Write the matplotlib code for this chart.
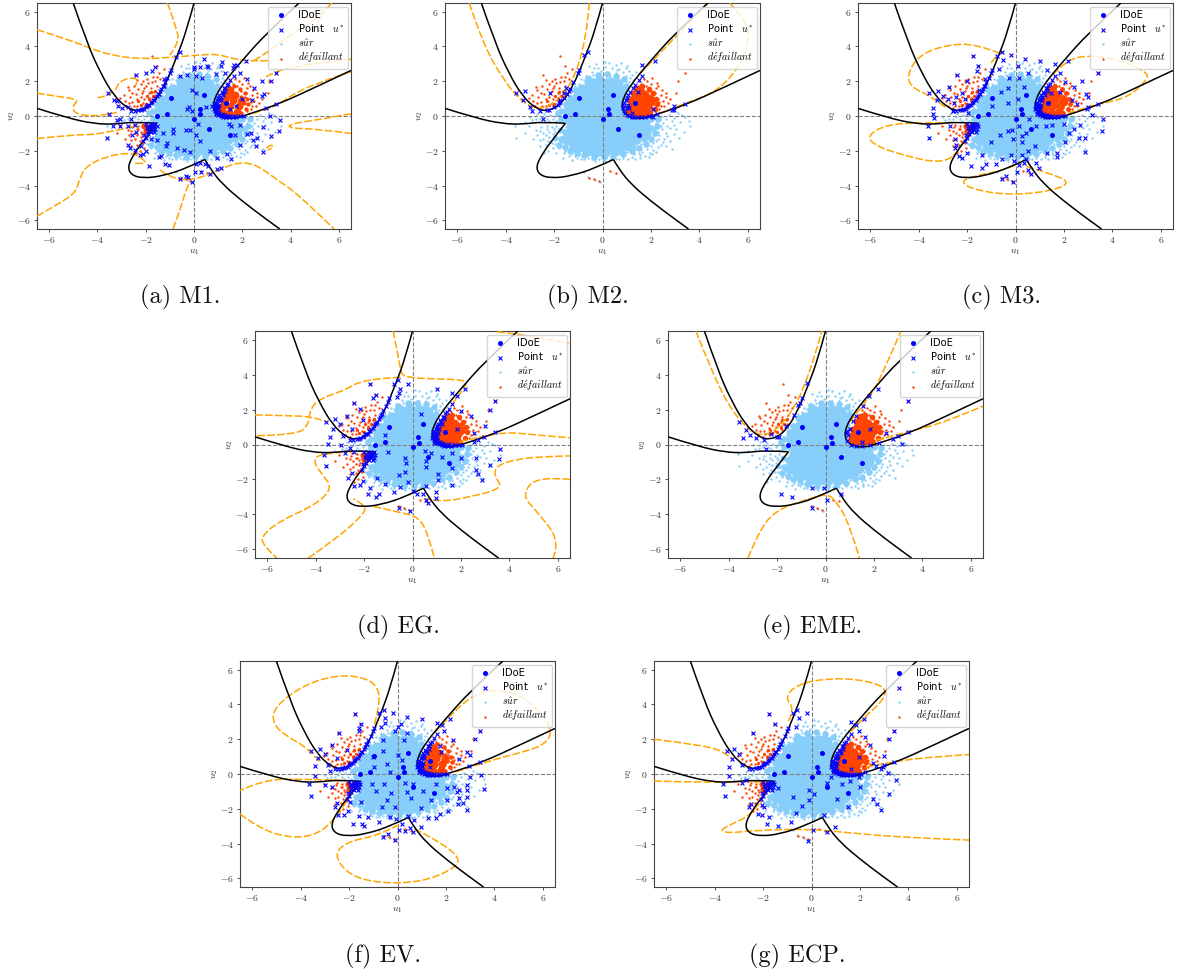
import numpy as np
import matplotlib
matplotlib.use("Agg")
import matplotlib.pyplot as plt
from matplotlib.path import Path
from matplotlib.patches import PathPatch

plt.rcParams['mathtext.fontset'] = 'cm'
plt.rcParams['font.family'] = ['DejaVu Sans']

W, H = 1178, 975

ticks = [-6, -4, -2, 0, 2, 4, 6]
tick_labels = ['$-6$', '$-4$', '$-2$', '$0$', '$2$', '$4$', '$6$']
legend_labels = ['IDoE', 'Point   $u^{*}$', r'$s\hat{u}r$', r'$d\acute{e}faillant$']
captions = ['(a) M1.', '(b) M2.', '(c) M3.', '(d) EG.', '(e) EME.', '(f) EV.', '(g) ECP.']

idoe = [(-1.55, 0.0), (-1.13, 0.13), (-0.95, 1.02), (0.0, -0.17), (0.25, 0.1),
        (0.23, 0.42), (0.43, 1.18), (0.62, -0.72), (1.33, 0.72), (1.5, -1.08)]

# limit state, split at the corners
limit_left = [(-5.0, 6.5), (-4.43, 4.2), (-3.87, 2.47), (-3.3, 1.13), (-2.77, 0.46), (-2.35, 0.27),
              (-1.8, 0.55), (-1.25, 1.6), (-0.7, 3.43), (-0.3, 4.96), (0.0, 6.5)]
limit_right = [(4.35, 6.5), (3.0, 4.77), (1.9, 3.04), (1.22, 1.9), (0.81, 0.94), (0.81, 0.27),
               (1.15, -0.1), (1.65, -0.17), (2.2, 0.08), (3.45, 0.65), (5.1, 1.7), (6.5, 2.62)]
limit_low1 = [(-6.5, 0.44), (-5.25, -0.11), (-4.15, -0.44), (-3.3, -0.48), (-2.5, -0.33), (-1.53, -0.42)]
limit_low2 = [(-1.53, -0.42), (-2.0, -1.25), (-2.45, -2.1), (-2.75, -2.9), (-2.6, -3.4), (-2.1, -3.58),
              (-1.3, -3.45), (-0.3, -3.0), (0.45, -2.5)]
limit_low3 = [(0.45, -2.5), (0.7, -3.1), (1.2, -3.95), (2.0, -4.9), (3.0, -5.95), (3.55, -6.5)]
limit_curves = [limit_left, limit_right, limit_low1, limit_low2, limit_low3]

# dense part of the safe cloud, drawn with big marks
sur_core = [(-0.5, 1.9), (-0.1, 1.95), (0.3, 1.9), (0.6, 1.85),
            (-0.85, 1.5), (-0.45, 1.5), (-0.05, 1.5), (0.35, 1.5), (0.75, 1.45),
            (-1.0, 1.1), (-0.65, 1.1), (-0.25, 1.1), (0.15, 1.1), (0.5, 1.1), (0.75, 1.05),
            (-1.2, 0.7), (-0.85, 0.7), (-0.45, 0.7), (-0.05, 0.7), (0.35, 0.7), (0.65, 0.7),
            (-1.4, 0.3), (-1.05, 0.3), (-0.65, 0.3), (-0.25, 0.3), (0.15, 0.3), (0.5, 0.3), (0.7, 0.3),
            (-1.4, -0.1), (-1.05, -0.1), (-0.65, -0.1), (-0.25, -0.1), (0.15, -0.1), (0.55, -0.1), (0.8, -0.2),
            (1.25, -0.45), (1.7, -0.45),
            (-1.25, -0.55), (-0.9, -0.5), (-0.5, -0.5), (-0.1, -0.5), (0.3, -0.5), (0.7, -0.5), (1.05, -0.6), (1.45, -0.7),
            (-1.3, -0.95), (-0.95, -0.9), (-0.55, -0.9), (-0.15, -0.9), (0.25, -0.9), (0.65, -0.9), (1.05, -1.0), (1.45, -1.05), (1.75, -0.95),
            (-1.45, -1.35), (-1.05, -1.3), (-0.65, -1.3), (-0.25, -1.3), (0.15, -1.3), (0.55, -1.3), (0.95, -1.35), (1.35, -1.35),
            (-1.15, -1.7), (-0.8, -1.7), (-0.4, -1.7), (0.0, -1.7), (0.4, -1.7), (0.8, -1.7), (1.15, -1.65),
            (-0.6, -1.95), (-0.25, -2.0), (0.1, -2.0), (0.5, -1.95)]
# rim of the dense part
sur_mid = [(-0.6, 2.2), (-0.2, 2.35), (0.2, 2.4), (0.55, 2.3), (0.9, 2.15), (0.95, 1.75), (-1.15, 1.5), (-1.35, 1.05),
           (-1.5, 0.7), (-1.7, 0.3), (-1.85, 0.15), (-1.7, -0.15), (-1.55, -0.9), (-1.7, -1.3), (-1.8, -1.65), (-1.55, -1.8),
           (-1.35, -2.0), (-1.05, -2.1), (-0.75, -2.25), (-0.35, -2.35), (0.05, -2.35), (0.45, -2.3), (0.85, -2.2), (1.2, -2.0),
           (1.5, -1.85), (1.8, -1.6), (2.0, -1.3), (2.15, -0.95), (2.25, -0.55), (2.3, -0.2), (2.0, -0.15), (1.6, -0.25),
           (1.15, -0.2), (2.0, -0.7), (1.7, -1.35)]
# thinner part of the safe cloud
sur_dots = [(-0.2, 2.75), (0.1, 2.8), (0.4, 2.75), (-0.45, 2.55), (-0.1, 2.45), (0.25, 2.5), (0.55, 2.5), (0.85, 2.55),
            (-0.7, 2.3), (-0.4, 2.35), (-0.05, 2.3), (0.3, 2.3), (0.65, 2.3), (0.95, 2.3), (1.1, 2.6), (1.0, 2.9), (0.75, 3.05),
            (0.25, 3.05), (-0.25, 3.0), (-0.55, 2.9), (0.55, 2.95), (1.2, 2.35), (-0.75, 2.05), (0.95, 2.0), (1.1, 1.95),
            (-0.95, 1.85), (-1.1, 1.5), (-1.3, 1.15), (-1.45, 0.85), (-1.6, 0.55), (-1.75, 0.3), (-1.9, 0.12), (-2.15, 0.05),
            (-2.4, 0.1), (-2.7, 0.12), (-1.75, 0.0), (-2.05, -0.15), (-2.3, -0.2), (-2.6, -0.15), (-2.9, -0.25), (-3.2, -0.35),
            (-3.6, -0.55), (-3.0, -0.05), (-1.8, -0.25), (0.9, 0.05), (0.85, 0.55), (0.9, 1.3), (1.05, 1.6), (1.25, 2.05),
            (1.35, -0.15), (1.7, -0.2), (2.05, -0.15), (2.4, -0.05), (2.75, 0.05), (3.1, 0.15), (3.4, -0.05), (2.2, -0.4),
            (2.5, -0.4), (2.85, -0.3), (3.2, -0.35), (3.55, -0.3), (2.15, -0.75), (2.45, -0.75), (2.8, -0.7), (3.05, -0.75),
            (3.35, -0.9), (2.1, -1.1), (2.35, -1.1), (2.65, -1.15), (2.95, -1.05), (3.15, -1.25), (1.95, -1.4), (2.2, -1.45),
            (2.5, -1.5), (2.8, -1.45), (1.75, -1.7), (2.0, -1.75), (2.3, -1.8), (2.6, -1.75), (2.85, -1.9), (1.4, -1.9),
            (1.65, -2.05), (1.95, -2.1), (2.2, -2.05), (1.0, -2.05), (1.3, -2.2), (1.55, -2.4), (0.75, -2.2), (1.05, -2.45),
            (1.35, -2.5), (0.4, -2.2), (0.7, -2.5), (0.15, -2.3), (-0.1, -2.25), (-0.4, -2.2), (-0.7, -2.25), (-0.95, -2.05),
            (-1.25, -2.05), (-1.5, -1.75), (-1.7, -1.5), (-1.4, -2.3), (-1.05, -2.4), (-0.75, -2.5), (-0.45, -2.5), (-0.15, -2.5),
            (0.1, -2.6), (-1.25, -2.55), (-1.6, -2.15), (-0.6, -3.5), (-0.3, -3.7), (-0.1, -3.8), (-0.75, -3.2),
            (-1.55, -1.1), (-1.6, -0.8), (-1.5, -0.65), (-1.95, -1.6), (1.9, -2.35), (3.6, -0.6), (3.3, 0.05), (-3.55, -1.25),
            (0.1, 3.1), (-0.05, 2.6), (0.7, 2.7), (-0.3, 2.15), (0.15, 2.15), (0.5, 2.1), (2.6, -0.95), (1.85, -1.25),
            (-1.35, -1.65), (-0.95, -2.25), (0.95, -1.85), (1.6, -1.6), (-1.15, 1.75), (0.8, 1.75),
            (-0.9, 2.1), (-0.35, 2.75), (0.6, 2.65), (0.95, 2.75), (1.15, 2.2), (1.4, 2.55), (2.3, -0.2), (2.6, -0.2), (2.95, -0.1),
            (2.4, -0.55), (2.65, -0.6), (2.95, -0.5), (2.3, -0.9), (2.55, -1.3), (2.3, -1.3), (2.1, -1.55), (2.4, -1.65), (1.85, -1.9),
            (2.1, -1.95), (1.5, -2.1), (1.2, -2.35), (0.85, -2.4), (0.55, -2.45), (0.3, -2.45), (0.0, -2.45), (-0.3, -2.6), (-0.6, -2.4),
            (-0.9, -2.5), (-1.15, -2.3), (-1.3, -2.2), (-1.55, -2.0), (-1.8, -1.85), (-1.9, -2.1), (-1.65, -2.4), (-2.0, -1.3),
            (-1.9, -0.3), (-2.2, -0.3), (-2.45, -0.05), (-2.75, -0.2), (-1.95, 0.0), (1.55, -2.25), (1.75, -2.3), (2.05, -2.2)]
# lower left lobe, safe only in M2 and EME
low_lobe_core = [(-1.75, -0.8), (-1.95, -1.25), (-1.6, -1.35)]
low_lobe_dots = [(-1.9, -0.55), (-2.1, -0.65), (-2.3, -0.55), (-2.55, -0.65), (-2.75, -0.8), (-2.2, -0.9), (-2.45, -0.95),
                 (-2.7, -1.1), (-2.2, -1.2), (-2.45, -1.3), (-2.1, -1.55), (-2.35, -1.65), (-2.85, -1.3), (-2.05, -1.85),
                 (-2.25, -2.0), (-2.6, -1.7), (-1.95, -0.9), (-3.05, -0.6), (-3.2, -0.95), (-2.4, -2.15),
                 (-2.0, -0.75), (-2.3, -0.75), (-2.6, -0.85), (-2.35, -1.1), (-2.05, -1.05), (-2.6, -1.4), (-2.25, -1.45)]

# failure points
fail_core = [(1.15, 0.3), (1.45, 0.2), (1.8, 0.25), (1.2, 0.6), (1.5, 0.55), (1.85, 0.6), (1.3, 0.9), (1.6, 0.9),
             (1.95, 0.85), (1.4, 1.2), (1.7, 1.2), (1.5, 1.5)]
fail_mid = [(1.05, 0.45), (1.1, 0.9), (1.25, 1.35), (1.4, 1.6), (1.65, 1.7), (1.9, 1.55), (2.1, 1.3), (2.2, 1.0), (2.25, 0.7),
            (2.15, 0.4), (1.95, 0.15), (1.6, 0.08), (1.3, 0.1), (1.05, 0.2), (1.95, 1.1), (2.05, 0.75)]
fail_left = [(-2.0, 0.7), (-1.85, 0.95), (-1.7, 1.15), (-1.95, 1.15), (-1.6, 1.45), (-1.8, 1.4), (-2.2, 0.65), (-2.3, 0.85)]
fail_dots = [(2.2, 0.3), (2.4, 0.55), (2.25, 0.7), (2.5, 0.85), (2.3, 1.0), (2.1, 1.1), (2.4, 1.2), (2.6, 1.1), (2.15, 1.35),
             (1.95, 1.45), (2.2, 1.6), (2.45, 1.5), (1.8, 1.7), (2.0, 1.85), (1.6, 1.85), (1.7, 2.1), (2.05, 2.2),
             (2.25, 1.9), (2.8, 1.0), (3.05, 1.35), (3.4, 2.5), (3.1, 2.0), (2.7, 0.75),
             (-2.8, 0.55), (-2.6, 0.45), (-2.35, 0.6), (-2.1, 0.75), (-2.55, 0.8), (-2.85, 0.85), (-2.35, 0.95), (-2.05, 1.0),
             (-1.85, 1.05), (-2.65, 1.1), (-2.9, 1.2), (-2.4, 1.25), (-2.15, 1.3), (-1.85, 1.3), (-1.65, 1.4), (-2.7, 1.5),
             (-2.3, 1.55), (-2.05, 1.6), (-1.8, 1.6), (-1.55, 1.7), (-2.75, 1.65), (-2.2, 1.85), (-1.9, 1.9), (-1.6, 2.0),
             (-1.4, 2.1), (-2.35, 2.05), (-1.7, 2.25), (-1.45, 2.45), (-2.45, 2.35), (-1.25, 2.7), (-1.55, 2.85), (-1.75, 3.45),
             (-3.05, 1.05), (-1.95, 2.15), (-2.05, 0.5), (-1.8, 0.85), (-1.6, 1.15),
             (-0.55, -3.55), (-0.35, -3.65), (-0.15, -3.75), (0.3, -3.15), (0.55, -3.25),
             (2.35, 0.4), (2.55, 0.6), (2.35, 0.8), (2.6, 1.35), (2.3, 1.75), (1.85, 2.0), (1.5, 2.0), (-2.5, 0.6), (-2.7, 0.75),
             (-2.2, 1.1), (-2.55, 1.35), (-2.1, 1.45), (-2.5, 1.7), (-2.0, 1.75), (-1.75, 1.95), (-2.1, 2.0), (-1.55, 2.25)]
low_fail_core = [(-1.85, -0.65), (-2.0, -0.85), (-1.8, -0.55), (-2.05, -0.6)]
low_fail_dots = low_lobe_dots + [(-1.8, -0.9), (-1.9, -1.1), (-2.15, -1.05), (-2.35, -0.75), (-2.05, -0.55), (-2.5, -0.5)]

# points of the enrichment that pile up along the limit state
tip_right = [(1.65, 2.3), (1.5, 2.05), (1.35, 1.8), (1.25, 1.6), (1.15, 1.4), (1.05, 1.2), (1.0, 1.05), (0.95, 0.9), (0.9, 0.75),
             (0.87, 0.6), (0.85, 0.45), (0.87, 0.3), (0.92, 0.18), (1.0, 0.08), (1.1, 0.02), (1.2, -0.03), (1.32, -0.07),
             (1.45, -0.08), (1.6, -0.07), (1.75, -0.05), (1.9, -0.02), (2.05, 0.0), (1.0, 0.45), (1.05, 0.65), (1.1, 0.9),
             (1.0, 0.25), (1.2, 1.2), (1.3, 1.45), (1.15, 0.12), (1.3, 0.05), (1.5, 0.02), (0.98, 0.6),
             (0.95, 0.35), (0.93, 0.5), (0.95, 0.7), (1.02, 0.9), (1.1, 1.1), (1.18, 1.3), (1.3, 1.6), (1.42, 1.85),
             (1.05, 0.15), (1.22, 0.06), (1.4, -0.02), (1.7, 0.0), (0.9, 0.1), (0.82, 0.4), (0.84, 0.7)]
arc_left = [(-2.6, 0.27), (-2.45, 0.27), (-2.3, 0.32), (-2.15, 0.4), (-2.0, 0.5), (-1.9, 0.62), (-1.8, 0.75), (-1.7, 0.9), (-1.6, 1.05),
            (-1.5, 1.25), (-1.4, 1.45), (-1.3, 1.7), (-1.2, 1.95), (-1.1, 2.2), (-1.0, 2.45), (-0.95, 2.65), (-2.2, 0.33), (-1.95, 0.58),
            (-1.75, 0.8), (-1.55, 1.15), (-1.35, 1.55), (-2.05, 0.42), (-1.85, 0.62), (-1.65, 0.92), (-1.45, 1.28), (-1.25, 1.75)]
tip_low = [(-1.6, -0.45), (-1.7, -0.45), (-1.8, -0.5), (-1.9, -0.55), (-1.65, -0.6), (-1.75, -0.65), (-1.85, -0.7), (-1.7, -0.8),
           (-1.8, -0.9), (-1.9, -1.05), (-2.0, -1.25), (-2.1, -1.45), (-2.0, -0.45), (-1.95, -0.7), (-1.6, -0.75),
           (-1.75, -0.55), (-1.9, -0.85), (-1.65, -0.9), (-1.55, -0.6), (-2.05, -1.1)]

ustar_a = tip_right + arc_left + tip_low + [
    (-3.55, 1.3), (-3.3, 0.9), (-3.2, 0.85), (-3.15, 0.6), (-3.0, 0.45), (-2.75, 0.5), (-3.5, 0.1), (-3.2, -0.25), (-3.05, -0.2),
    (-3.35, -0.55), (-3.05, -0.55), (-3.6, -1.25), (-2.75, -0.55), (-2.6, -0.2), (-2.45, -0.5), (-2.4, -0.9), (-2.55, -1.1),
    (-2.75, -1.65), (-2.65, -1.85), (-2.45, -1.95), (-2.2, -1.7), (-2.25, -2.25), (-2.1, -2.2), (-2.0, -2.0), (-1.85, -2.85),
    (-1.45, -2.35), (-1.35, -2.3), (-1.2, -2.75), (-1.05, -2.8), (-0.6, -3.65), (-0.35, -3.45), (-0.1, -3.8), (-0.25, -3.5),
    (0.05, -3.2), (0.3, -3.2), (0.65, -3.35), (0.95, -3.05), (1.1, -3.0), (0.1, -2.75), (0.25, -2.7), (0.45, -2.75), (0.6, -2.9),
    (-2.4, 2.35), (-2.0, 2.5), (-1.75, 2.6), (-1.6, 2.8), (-1.25, 2.1), (-0.6, 3.7), (-0.75, 3.4), (-0.6, 2.3), (-0.3, 2.35),
    (0.0, 2.8), (0.0, 2.7), (0.25, 2.8), (0.55, 2.85), (0.1, 2.3), (0.35, 2.2), (0.9, 2.4), (0.4, 3.3), (0.6, 2.8), (1.15, 3.1),
    (1.1, 2.9), (1.65, 2.95), (1.8, 2.95), (1.6, 2.75), (2.15, 3.15), (1.3, 2.5), (1.9, 2.45), (2.2, 2.15), (2.8, 2.0), (3.2, 2.0),
    (3.4, 2.5), (2.5, 1.6), (2.9, 1.25), (2.8, 1.15), (2.4, 0.9), (2.0, 0.95), (1.75, 0.55), (1.5, 0.4), (3.0, 0.45), (3.4, 0.7),
    (3.15, 0.0), (3.55, -0.25), (3.5, -0.85), (3.2, -1.15), (2.85, -2.05), (2.85, -0.65), (2.6, -1.25), (2.55, -1.7), (2.45, -1.4),
    (2.35, -0.95), (2.2, -1.05), (1.9, -0.5), (1.55, -0.55), (1.7, -1.1), (1.9, -1.65), (1.35, -2.2), (1.55, -2.45), (0.95, -2.4),
    (0.65, -2.0), (0.25, -1.45), (0.1, -1.1), (-0.15, -0.8), (-0.35, -0.8), (-0.85, -0.75), (-0.85, -1.0), (-1.1, -1.55),
    (-0.7, -1.85), (-0.4, -1.95), (-0.15, -2.05), (0.15, -0.45), (-0.1, 0.3), (-0.3, 0.4), (-0.1, 1.5), (0.1, 1.35), (-0.2, 0.5),
    (0.5, 0.5), (0.75, 0.6), (1.45, -0.45), (-1.55, -1.4), (-1.8, -1.35), (-1.3, -1.0), (-1.15, -1.75)]

ustar_b = arc_left[::2] + tip_right[:24] + [
    (-3.55, 1.3), (-3.3, 0.9), (-3.2, 1.45), (-3.0, 0.5), (-2.9, 0.3), (-2.45, -0.2), (-2.15, 1.3), (-1.75, 0.9), (-1.5, 1.6),
    (-1.6, 1.3), (-0.75, 3.5), (-0.6, 3.7), (-0.98, 2.65), (1.65, 2.95), (2.15, 3.15), (1.45, 1.4), (1.1, 0.45), (1.2, 0.15),
    (2.1, 0.4), (2.1, -0.05), (2.25, 0.1), (2.85, 0.35), (2.95, 0.55), (2.95, 0.35), (3.4, 0.7)]

ustar_c = tip_right + arc_left + tip_low + [
    (-3.6, -0.6), (-3.55, -1.25), (-3.55, 1.3), (-3.4, 0.45), (-3.4, 0.1), (-3.35, -0.1), (-3.25, 0.9), (-3.2, 1.45), (-3.0, 1.15),
    (-2.8, 0.95), (-2.75, 1.65), (-2.6, 0.3), (-2.55, 0.75), (-2.45, 1.1), (-2.4, 2.35), (-2.2, 1.35), (-2.1, 1.0), (-1.95, 0.2),
    (-2.0, 2.0), (-1.75, 3.45), (-1.55, 2.85), (-1.6, 2.6), (-1.5, 1.5), (-1.25, 2.1), (-2.7, -0.6), (-2.5, -1.3), (-2.5, -1.85),
    (-2.45, -1.65), (-2.35, -2.3), (-2.2, -2.4), (-2.0, -2.15), (-1.85, -2.85), (-1.4, -3.0), (-1.2, -2.75), (-1.4, -2.25),
    (-1.0, -1.5), (-0.65, -1.1), (-0.55, -3.65), (-0.4, -3.45), (-0.1, -3.8), (0.05, -3.2), (0.65, -3.35), (0.5, -3.1),
    (0.95, -3.0), (0.85, -2.7), (0.15, -2.8), (0.35, -2.7), (-0.05, -2.6), (0.45, -2.5), (0.25, -2.25), (-0.2, -2.25), (-0.55, -2.45),
    (-0.8, -2.75), (0.5, -2.0), (1.3, -2.1), (1.7, -2.1), (1.7, -2.35), (2.05, -1.5), (2.85, -2.05), (2.6, -1.25), (2.2, -0.95),
    (2.4, -0.75), (2.85, -1.25), (3.55, -0.85), (3.6, -0.2), (3.15, 0.05), (2.65, -0.5), (2.0, -0.45), (1.5, -0.5), (1.25, -0.55),
    (0.85, -0.55), (0.55, -0.15), (0.45, -0.95), (0.25, -1.15), (-0.15, -0.8), (-0.1, -1.3), (0.25, -1.5), (0.8, -1.7),
    (-0.3, -0.85), (0.15, -0.6), (-0.6, 1.4), (-0.95, 0.6), (-0.3, 0.75), (-0.3, 1.6), (0.1, 1.0), (0.15, 2.2), (0.35, 1.65),
    (0.1, 2.85), (0.4, 3.3), (0.5, 2.45), (-0.2, 3.5), (-0.5, 3.2), (-0.55, 3.7), (-0.75, 3.45), (-0.7, 2.7), (-0.25, 2.2),
    (1.0, 3.15), (1.3, 2.65), (1.65, 3.0), (2.15, 3.15), (1.85, 2.5), (2.05, 1.95), (2.4, 1.65), (2.75, 2.0), (3.4, 2.5), (3.0, 1.1),
    (2.9, 1.25), (2.35, 0.9), (2.55, 0.7), (3.0, 0.5), (2.95, 0.4), (3.4, 0.7), (1.85, 1.4), (1.45, 1.3)]

ustar_d = tip_right + arc_left + tip_low + [
    (-3.65, -0.6), (-3.55, -1.25), (-3.55, 1.3), (-3.5, 0.05), (-3.4, 0.45), (-3.3, 0.9), (-3.2, 1.45), (-3.0, 1.15), (-2.95, -0.05),
    (-2.85, 0.5), (-2.7, 1.65), (-2.5, 0.9), (-2.4, 2.35), (-2.15, 2.05), (-2.05, 1.4), (-1.75, 3.45), (-1.5, 2.85), (-1.65, 2.65),
    (-2.8, -0.5), (-2.6, -0.2), (-2.4, -0.45), (-2.5, -1.65), (-2.65, -1.9), (-2.4, -2.35), (-2.15, -2.3), (-2.05, -2.1), (-1.85, -2.85),
    (-1.75, -2.5), (-1.5, -3.0), (-1.45, -1.9), (-1.4, -2.85), (-1.15, -2.25), (-1.0, -0.45), (-0.75, -2.7), (-0.55, -3.65), (-0.55, -1.75),
    (-0.5, -2.45), (-0.3, -0.75), (-0.25, -1.05), (-0.3, -1.55), (-0.2, -2.15), (-0.1, -3.8), (0.0, -2.65), (0.2, -2.85), (0.45, -2.85),
    (0.55, -2.35), (0.65, -3.35), (0.55, -3.15), (0.95, -3.05), (0.95, -2.7), (1.05, -2.05), (1.05, -1.7), (0.55, -0.95), (0.55, -1.3),
    (0.75, -0.5), (0.5, -0.4), (1.2, -0.7), (1.65, -1.35), (1.65, -2.3), (2.0, -0.8), (1.65, -0.5), (2.6, -0.75), (2.6, -1.45),
    (2.7, -1.7), (2.85, -2.05), (3.2, -1.15), (3.55, -0.85), (3.6, -0.25), (-1.15, 0.55), (0.35, 1.75), (1.85, 0.9), (2.0, 1.9),
    (-0.75, 3.45), (-0.6, 3.7), (-0.5, 3.2), (-0.65, 2.7), (-0.55, 2.95), (-0.2, 3.45), (1.0, 3.15), (1.65, 2.95), (1.85, 2.8), (2.15, 3.15),
    (2.4, 1.65), (2.55, 0.65), (2.95, 0.45), (3.0, 1.05), (3.2, 2.0), (3.4, 2.5), (3.4, 0.7), (2.7, 0.25), (2.55, 0.15)]

ustar_e = [(-3.55, 1.3), (-3.3, 0.85), (-3.4, 0.4), (-3.1, 0.55), (-2.85, 0.35), (-2.55, 0.25), (-2.25, 0.6), (-2.0, 0.45), (-1.9, 0.45),
           (-1.65, 1.05), (-1.3, 1.7), (-1.15, 2.25), (-1.05, 2.4), (-0.95, 2.65), (-0.75, 3.5), (-2.45, -0.25),
           (-1.85, -2.85), (-1.4, -3.0), (-0.55, -2.5), (-0.05, -2.5), (0.05, -3.2), (0.65, -2.85), (-0.55, -3.65),
           (0.9, 0.8), (0.87, 0.65), (0.92, 0.55), (1.0, 0.9), (1.15, 1.35), (1.25, 1.65), (1.55, 2.2), (1.8, 2.75), (2.15, 3.15),
           (0.9, 0.2), (1.05, 0.0), (1.25, -0.1), (1.5, -0.1), (1.5, 0.15), (1.85, 0.9), (1.85, -0.05), (2.2, 0.1),
           (2.5, 0.65), (2.8, 0.3), (3.0, 0.5), (3.15, 0.02), (3.4, 0.7), (3.4, 2.5)]

ustar_f = tip_right + arc_left + tip_low + [
    (-3.65, -0.6), (-3.55, -1.25), (-3.55, 1.3), (-3.4, 0.45), (-3.4, -0.1), (-3.3, 0.9), (-3.2, 1.45), (-3.0, 1.15), (-3.0, -0.65),
    (-2.85, 0.5), (-2.8, 0.2), (-2.7, 1.65), (-2.7, -0.75), (-2.5, 0.9), (-2.4, 2.35), (-2.35, 0.3), (-2.1, 1.4), (-1.75, 3.45),
    (-1.6, 2.65), (-1.6, 2.5), (-1.5, 2.85), (-2.6, -1.9), (-2.5, -1.65), (-2.45, -2.35), (-2.2, -2.35), (-2.05, -2.1), (-1.85, -2.85),
    (-1.95, -1.6), (-1.6, -2.4), (-1.5, -1.6), (-1.45, -2.85), (-1.4, -3.0), (-1.2, -2.45), (-1.05, -0.6), (-0.9, -1.0), (-0.75, -2.75),
    (-0.55, -0.6), (-0.65, -1.9), (-0.45, -1.5), (-0.6, -3.65), (-0.4, -3.45), (-0.3, -2.5), (-0.1, -3.8), (-0.25, -1.1), (-0.1, -1.9),
    (-0.05, -2.6), (0.05, -3.2), (0.2, -2.85), (0.3, -3.25), (0.5, -3.1), (0.45, -2.4), (0.65, -3.35), (0.7, -2.65), (0.95, -3.05),
    (0.3, -0.5), (0.4, -1.05), (0.65, -0.6), (0.55, -1.4), (1.05, -1.0), (0.95, -1.95), (1.25, -2.55), (1.6, -2.55), (1.4, -1.5),
    (1.75, -2.3), (2.05, -1.5), (2.05, -0.8), (2.1, -2.15), (1.6, -0.55), (2.35, -0.75), (2.45, -1.05), (2.55, -0.9), (2.5, -1.7),
    (2.55, -1.4), (2.7, -1.65), (2.85, -0.65), (2.85, -0.9), (2.85, -1.3), (2.85, -2.05), (3.0, -0.2), (3.45, -0.05), (3.55, -0.85),
    (-1.0, 1.0), (-0.95, 0.4), (-0.45, 0.55), (-0.3, 0.1), (0.2, 0.8), (0.0, 1.1), (0.25, 1.95), (-0.6, 1.35), (-0.6, 1.95), (0.4, 2.35),
    (-0.55, 3.7), (-0.75, 3.5), (-0.5, 3.2), (-0.5, 2.95), (-0.7, 2.7), (-0.2, 3.5), (-0.1, 2.5), (0.0, 2.7), (0.15, 2.85), (0.4, 3.3),
    (1.0, 3.15), (1.65, 2.95), (1.85, 2.8), (2.15, 3.15), (1.9, 2.45), (2.3, 1.95), (2.55, 0.85), (2.85, 1.25), (3.0, 1.1), (2.95, 0.45),
    (3.2, 2.0), (3.4, 2.5), (3.4, 0.7), (1.75, 1.6), (1.8, 1.25), (1.35, 0.4)]

ustar_g = tip_right + arc_left + tip_low + [
    (-3.65, -0.55), (-3.55, -1.25), (-3.5, 1.3), (-3.4, 0.4), (-3.4, -0.1), (-3.3, 0.85), (-3.2, 1.45), (-3.0, 1.15), (-2.85, 0.5),
    (-2.85, -0.5), (-2.7, -0.35), (-2.6, -1.9), (-2.5, -1.7), (-2.4, 2.35), (-2.2, -2.3), (-2.05, -2.35), (-2.05, -1.8), (-1.95, -1.9),
    (-1.85, -2.85), (-1.75, 3.45), (-1.75, -2.5), (-1.5, 2.85), (-1.4, -3.0), (-1.4, -0.8), (-0.85, -2.75), (-0.75, -1.35), (-0.65, -2.25),
    (-0.4, -1.85), (-0.1, -1.5), (-0.1, -0.9), (0.1, -1.15), (0.05, -3.2), (0.65, -3.35), (0.5, -2.35), (0.95, -3.05), (-0.15, -3.85),
    (0.65, -0.5), (0.8, -0.15), (1.05, -1.45), (1.5, -1.9), (1.25, -0.55), (1.6, -0.4), (2.0, -0.75), (1.95, -0.2), (2.55, -1.45), (2.7, -1.7),
    (2.85, -2.05), (3.2, -1.15), (3.5, -0.35), (3.15, 0.05), (-0.75, 3.5), (-0.6, 3.7), (-0.5, 3.2), (-0.65, 2.7), (-0.2, 3.5),
    (1.65, 3.0), (1.85, 2.8), (2.15, 3.15), (1.95, 2.45), (2.2, 2.15), (1.65, 0.3), (1.95, 1.0), (2.4, 1.65), (2.55, 0.65), (2.65, 0.45),
    (2.85, 0.3), (2.95, 0.4), (3.0, 0.5), (3.0, 1.05), (3.2, 2.0), (3.4, 2.5), (3.4, 0.7), (2.2, 0.1)]
ustar_all = [ustar_a, ustar_b, ustar_c, ustar_d, ustar_e, ustar_f, ustar_g]

# estimated failure boundary of each panel
orange_a = [[(-6.5, 4.96), (-5.25, 4.42), (-4.3, 3.9), (-3.45, 3.5), (-2.2, 3.27), (-0.85, 3.38), (0.26, 3.52), (1.0, 3.56), (1.65, 3.27), (2.5, 3.14), (3.2, 3.2)],
            [(6.5, 3.27), (5.1, 3.04), (4.1, 2.8), (3.45, 2.6), (2.9, 2.2)],
            [(6.5, 2.55), (5.1, 1.9), (4.1, 1.25), (3.6, 0.75), (2.9, 0.3), (2.2, 0.08)],
            [(-1.1, 6.5), (-0.7, 5.0), (-0.63, 4.2), (-1.0, 3.5)],
            [(5.7, 6.5), (5.2, 5.7), (4.1, 4.8), (3.2, 3.8), (2.5, 3.2)],
            [(-6.5, 1.32), (-5.7, 1.13), (-4.75, 0.95), (-5.05, 0.55), (-4.9, 0.08), (-3.9, -0.02), (-3.2, 0.2)],
            [(-4.0, 1.05), (-3.3, 1.2), (-3.1, 2.08), (-2.2, 2.25), (-2.45, 1.7)],
            [(-6.5, -1.3), (-5.0, -1.07), (-3.9, -1.07), (-2.5, -0.6)],
            [(-6.5, -5.76), (-5.65, -5.1), (-4.9, -4.4), (-4.77, -3.75), (-4.5, -2.9), (-3.6, -2.3), (-2.6, -2.1), (-2.15, -2.4), (-1.95, -2.8), (-2.5, -2.7)],
            [(-1.4, -3.1), (-1.1, -3.45), (-0.3, -3.75), (0.8, -3.3), (1.65, -2.7), (2.47, -2.7), (3.43, -3.65), (4.4, -4.6), (5.8, -6.5)],
            [(-0.87, -6.5), (-0.57, -5.4), (-0.3, -4.05), (-0.15, -3.75)],
            [(6.5, 0.13), (5.2, -0.2), (4.0, -0.45), (3.9, -0.7), (5.1, -0.75), (6.5, -1.0)],
            [(3.0, -1.85), (3.2, -1.6), (3.3, -1.85), (3.05, -1.95)]]
orange_b = [[(-5.5, 6.5), (-4.95, 4.2), (-4.1, 2.1), (-3.3, 0.75), (-2.45, 0.27), (-1.35, 1.5), (-0.65, 4.4), (-0.55, 6.5)],
            [(1.55, 2.45), (3.05, 4.55), (4.2, 6.4), (4.4, 6.5)],
            [(5.25, 6.5), (5.9, 5.5), (6.05, 4.75), (5.85, 3.25), (4.85, 1.5), (3.5, 0.75), (2.25, 0.1)]]
orange_c = [[(-0.65, 3.6), (-1.6, 4.15), (-2.85, 4.1), (-4.0, 3.5), (-4.5, 2.3), (-4.25, 1.6), (-3.55, 1.2), (-2.85, 0.45)],
            [(-1.0, 3.05), (-0.8, 3.5), (-0.5, 3.7)],
            [(1.55, 2.4), (2.1, 3.2), (2.95, 3.5), (4.3, 3.25), (5.55, 2.45), (5.3, 1.9), (4.75, 1.2), (4.05, 0.85), (2.95, 0.55), (2.1, 0.1)],
            [(-2.6, -0.4), (-3.95, -0.37), (-5.35, -0.5), (-6.15, -1.15), (-5.75, -1.75), (-4.5, -2.3), (-3.4, -2.65), (-2.65, -2.5), (-2.15, -1.55), (-1.9, -0.95)],
            [(0.45, -2.9), (1.3, -3.25), (2.3, -3.8), (1.55, -4.3), (-0.1, -4.55), (-1.6, -4.3), (-2.3, -3.8), (-1.75, -3.45), (-0.4, -3.1), (0.2, -2.7)]]
orange_d = [[(-0.8, 6.5), (-0.6, 5.1), (-0.5, 4.35), (-0.4, 3.85), (1.0, 3.75), (2.2, 3.7), (2.25, 3.4), (1.65, 2.35)],
            [(-0.5, 3.85), (-2.0, 3.75), (-2.8, 3.1), (-3.3, 2.9), (-4.0, 2.45), (-4.25, 1.85), (-4.3, 1.1), (-4.8, 0.55), (-6.5, 0.5)],
            [(-6.5, 1.7), (-5.2, 1.65), (-4.1, 1.6), (-3.55, 1.3)],
            [(-2.45, -0.4), (-3.85, -0.5), (-4.1, -1.0), (-3.7, -1.75), (-3.3, -2.5), (-4.0, -3.45), (-5.5, -4.4), (-6.2, -5.2), (-6.2, -5.75), (-5.6, -6.5)],
            [(-4.3, -6.5), (-3.15, -5.4), (-2.05, -4.05), (-1.9, -3.5), (-2.45, -3.1)],
            [(-1.6, -3.55), (-0.65, -3.85), (0.3, -4.15), (0.7, -5.4), (0.9, -6.5)],
            [(0.45, -3.1), (1.15, -3.3), (2.4, -3.0), (3.75, -2.5), (3.35, -1.75), (3.5, -1.2), (4.15, -0.9), (5.1, -0.7), (6.5, -0.65)],
            [(6.5, -2.0), (5.15, -1.8), (4.5, -2.9), (5.15, -3.85), (6.1, -5.55), (5.8, -6.5)],
            [(1.95, 0.15), (3.5, 0.75), (5.1, 0.55), (6.5, 0.38)],
            [(3.5, 6.45), (4.4, 6.35), (6.45, 5.8)]]
orange_e = [[(-5.35, 6.5), (-4.65, 4.0), (-3.7, 1.5), (-2.6, 0.27), (-1.5, 1.5), (-0.65, 4.0), (-0.15, 6.5)],
            [(1.0, 1.3), (1.85, 2.7), (2.5, 4.5), (3.1, 6.45)],
            [(2.1, 0.25), (3.35, 0.7), (5.0, 1.3), (6.5, 2.2)],
            [(-3.2, -6.5), (-2.7, -4.8), (-2.0, -3.75), (-0.9, -3.2), (0.05, -2.8), (0.45, -3.25), (1.0, -4.6), (1.4, -6.5)]]
orange_f = [[(-0.95, 2.85), (-0.73, 4.0), (-0.8, 5.0), (-1.35, 5.55), (-2.45, 5.7), (-3.85, 5.15), (-5.1, 3.85), (-5.15, 2.85), (-4.5, 2.1), (-3.7, 1.5), (-3.15, 0.6)],
            [(1.55, 2.4), (2.5, 3.9), (3.5, 4.8), (4.7, 4.8), (5.8, 3.8), (6.4, 2.5), (6.1, 1.7), (5.15, 1.25), (3.75, 0.75), (2.35, 0.1)],
            [(-2.3, -0.35), (-3.85, -0.3), (-5.5, -0.3), (-6.5, -0.95)],
            [(-6.5, -2.3), (-5.6, -3.25), (-4.25, -3.7), (-3.3, -3.45), (-2.65, -2.7), (-2.0, -1.35), (-1.6, -0.6)],
            [(0.7, -3.15), (1.7, -3.85), (2.65, -4.9), (2.2, -5.55), (1.0, -6.2), (-0.65, -6.3), (-2.0, -5.85), (-2.65, -4.6), (-2.0, -3.85), (-0.8, -3.55), (0.15, -2.85)]]
orange_g = [[(-0.95, 3.05), (-0.7, 3.75), (-1.1, 4.4), (-0.6, 5.15), (0.6, 5.5), (2.0, 5.45), (3.1, 5.0), (2.95, 4.2), (2.15, 3.25), (1.6, 2.4)],
            [(-6.5, 2.0), (-4.75, 1.7), (-3.65, 1.35), (-3.25, 0.85)],
            [(-6.5, -0.4), (-4.5, -0.5), (-2.4, -0.4), (-1.45, -0.5)],
            [(-1.7, -0.75), (-2.4, -2.3), (-3.25, -2.85), (-3.8, -3.25), (-3.4, -3.4), (-2.4, -3.25), (-0.2, -3.15), (1.7, -3.4), (3.8, -3.65), (6.5, -3.8)],
            [(2.25, 0.4), (3.5, 0.75), (5.15, 1.0), (6.5, 1.12)]]
orange_all = [orange_a, orange_b, orange_c, orange_d, orange_e, orange_f, orange_g]

# left, right, top, bottom of each panel, in pixels of the page
boxes = [(37, 351, 3, 229), (445, 760, 3, 229), (858, 1173, 3, 229),
         (255, 570, 331, 558), (668, 983, 331, 558),
         (240, 555, 661, 887), (654, 969, 661, 887)]
caption_pos = [(180, 297), (588, 297), (1002, 297), (398, 627), (812, 627), (383, 956), (797, 956)]
low_lobe_safe = [False, True, False, False, True, False, False]
fail_core_size = [32, 55, 42, 50, 55, 36, 55]


def draw_curve(ax, pts, color, ls, lw, zorder):
    # smooth line through the read points, using the midpoints as knots
    pts = np.array(pts)
    verts = [pts[0]]
    codes = [Path.MOVETO]
    for i in range(1, len(pts) - 1):
        end = pts[-1] if i == len(pts) - 2 else (pts[i] + pts[i + 1]) / 2
        verts += [pts[i], end]
        codes += [Path.CURVE3, Path.CURVE3]
    if len(pts) == 2:
        verts.append(pts[1])
        codes.append(Path.LINETO)
    ax.add_patch(PathPatch(Path(verts, codes), fill=False, ec=color, ls=ls, lw=lw, zorder=zorder))


def scatter(ax, pts, **kw):
    pts = np.array(pts)
    return ax.scatter(pts[:, 0], pts[:, 1], linewidths=kw.pop('lw', 0), **kw)


fig = plt.figure(figsize=(W / 100, H / 100), dpi=100)
light = '#87cefa'
red = '#ff4500'

for i in range(7):
    l, r, t, b = boxes[i]
    ax = fig.add_axes([l / W, 1 - b / H, (r - l) / W, (b - t) / H])
    ax.set_xlim(-6.5, 6.5)
    ax.set_ylim(-6.5, 6.5)

    scatter(ax, sur_core, s=75, color=light, zorder=1)
    scatter(ax, sur_mid, s=22, color=light, zorder=1)
    h_sur = scatter(ax, sur_dots, s=3, color=light, zorder=1)
    if low_lobe_safe[i]:
        scatter(ax, low_lobe_core, s=18, color=light, zorder=1)
        scatter(ax, low_lobe_dots, s=3, color=light, zorder=1)
    scatter(ax, fail_core, s=fail_core_size[i], color=red, zorder=2)
    scatter(ax, fail_mid, s=fail_core_size[i] * 0.3, color=red, zorder=2)
    scatter(ax, fail_left, s=6, color=red, zorder=2)
    h_fail = scatter(ax, fail_dots, s=3, color=red, zorder=2)
    if not low_lobe_safe[i]:
        scatter(ax, low_fail_core, s=20, color=red, zorder=2)
        scatter(ax, low_fail_dots, s=3, color=red, zorder=2)

    ax.axhline(0, color='gray', ls='--', lw=0.8, zorder=3)
    ax.axvline(0, color='gray', ls='--', lw=0.8, zorder=3)

    for curve in orange_all[i]:
        draw_curve(ax, curve, 'orange', (0, (5, 1.5)), 1.1, 4)
    for curve in limit_curves:
        draw_curve(ax, curve, 'black', '-', 1.1, 5)

    h_ustar = scatter(ax, ustar_all[i], s=8, marker='x', color='blue', lw=0.8, zorder=6)
    h_idoe = scatter(ax, idoe, s=13, color='blue', zorder=7)

    ax.set_xticks(ticks, labels=tick_labels)
    ax.set_yticks(ticks, labels=tick_labels)
    ax.tick_params(labelsize=7, length=2.5, width=0.6, pad=2, colors='#333333')
    ax.set_xlabel('$u_1$', fontsize=7, labelpad=1, color='#333333')
    ax.set_ylabel('$u_2$', fontsize=7, labelpad=0, color='#333333')
    for sp in ax.spines.values():
        sp.set_linewidth(0.8)
        sp.set_color('#444444')

    ax.legend([h_idoe, h_ustar, h_sur, h_fail], legend_labels, loc='upper right', fontsize=7.2,
              borderaxespad=0.35, labelspacing=0.23, handletextpad=0.65, borderpad=0.35).set_zorder(8)

    x, y = caption_pos[i]
    fig.text(x / W, 1 - y / H, captions[i], family='cmr10', fontsize=17.5, ha='center', va='center', color='#111111')

fig.savefig('out.png', dpi=100)
